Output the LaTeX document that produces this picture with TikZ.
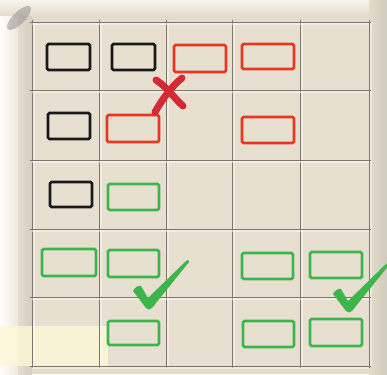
\documentclass[tikz,border=0pt]{standalone}
\usepackage{xcolor}
\usepackage{tikz}

\definecolor{paper}{HTML}{E4DCCB}
\definecolor{tile}{HTML}{E7E0D1}
\definecolor{seamgray}{HTML}{7D766A}
\definecolor{redink}{HTML}{E8361F}
\definecolor{crossred}{HTML}{D42A36}
\definecolor{greenink}{HTML}{3DB54A}
\definecolor{paleyellow}{HTML}{FDF8D6}

\begin{document}
\begin{tikzpicture}[
    x=1pt, y=-1pt,
    seam/.style={draw=seamgray, line width=0.9pt},
    gap/.style={draw=white, line width=1.2pt, opacity=0.45},
    slot/.style={line width=2.6pt, rounded corners=1.5pt},
    blackslot/.style={slot, draw=black!90},
    redslot/.style={slot, draw=redink},
    greenslot/.style={slot, draw=greenink},
    cross/.style={draw=crossred, line width=7pt, line cap=round},
    okmark/.pic={
      \fill[greenink] (-15,-16) .. controls (-13,-20) and (-9,-22) .. (-7,-21)
        -- (0,-9) -- (37,-45) .. controls (40,-48) and (42,-47) .. (41,-45)
        -- (4,1) .. controls (2,3) and (-1,3) .. (-2,1) -- cycle;
    },
  ]
    \useasboundingbox (0,0) rectangle (387,374);

    % board and edges
    \fill[paper] (0,0) rectangle (387,374);
    \fill[tile] (32,22) rectangle (369,366);
    \shade[left color=white, right color=paper] (0,0) rectangle (28,374);
    \shade[left color=paper, right color=paper!85!gray] (18,0) rectangle (32,374);
    \shade[top color=white!70!paper, bottom color=paper] (0,0) rectangle (387,16);
    \shade[left color=paper, right color=paper!80!gray] (369,0) rectangle (387,374);
    \fill[paleyellow, opacity=0.8] (0,326) rectangle (108,366);
    \fill[gray, opacity=0.45] (19,18) ellipse [x radius=16, y radius=6, rotate=45];

    % tile seams
    \foreach \x in {32,99,166,232,300,369} {
      \draw[gap] (\x+2,22) -- (\x+2,366);
      \draw[seam] (\x,20) -- (\x,368);
    }
    \foreach \y in {22,90,160,229,297,366} {
      \draw[gap] (32,\y+2) -- (369,\y+2);
      \draw[seam] (30,\y) -- (371,\y);
    }

    % drawn slots
    \foreach \a/\b/\c/\d in {47/44/90/70, 112/44/155/70, 48/113/90/139, 50/182/92/207}
      \draw[blackslot] (\a,\b) rectangle (\c,\d);
    \foreach \a/\b/\c/\d in {174/45/226/72, 242/44/294/69, 107/115/159/142, 242/117/294/143}
      \draw[redslot] (\a,\b) rectangle (\c,\d);
    \foreach \a/\b/\c/\d in {108/184/159/210, 42/249/96/276, 108/250/159/277,
                             108/321/159/345, 242/253/293/279, 310/252/362/278,
                             243/321/294/347, 310/319/362/346}
      \draw[greenslot] (\a,\b) rectangle (\c,\d);

    % marks
    \draw[cross] (156,80) .. controls (168,88) and (174,98) .. (183,106);
    \draw[cross] (182,78) .. controls (170,88) and (162,100) .. (155,112);
    \pic at (148,307) {okmark};
    \pic at (348,310) {okmark};
\end{tikzpicture}
\end{document}
